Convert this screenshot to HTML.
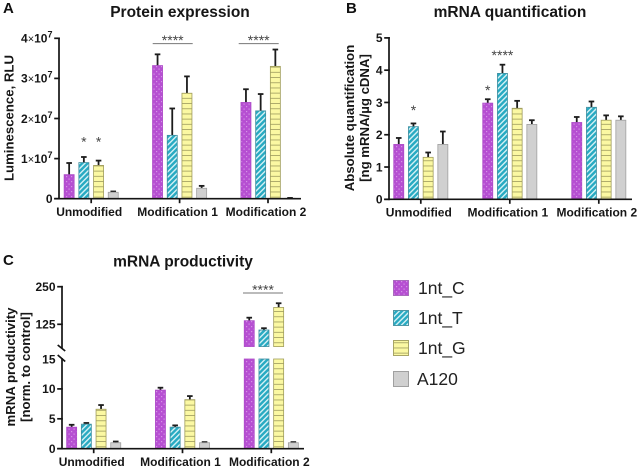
<!DOCTYPE html>
<html>
<head>
<meta charset="utf-8">
<style>
html,body{margin:0;padding:0;background:#fff;}
svg{display:block;font-family:"Liberation Sans",sans-serif;}
.ttl{font-size:15.5px;font-weight:bold;text-anchor:middle;fill:#161616;}
.ylab{font-size:13.2px;font-weight:bold;text-anchor:middle;fill:#161616;}
.tick{font-size:12px;font-weight:bold;text-anchor:end;fill:#161616;}
.cat{font-size:12px;font-weight:bold;text-anchor:middle;fill:#161616;}
.letter{font-size:15px;font-weight:bold;fill:#111;}
.leg{font-size:17.5px;fill:#222;}
.sig{font-size:14px;text-anchor:middle;fill:#444;}
</style>
</head>
<body>
<svg id="fig" width="640" height="469" viewBox="0 0 640 469" xmlns="http://www.w3.org/2000/svg">
<defs>
<pattern id="p-c" patternUnits="userSpaceOnUse" width="5" height="5">
<rect width="5" height="5" fill="#b64fd2"/><rect x="1" y="1" width="1.2" height="1.2" fill="#d596e6"/><rect x="3.5" y="3.5" width="1.2" height="1.2" fill="#d596e6"/>
</pattern>
<pattern id="p-t" patternUnits="userSpaceOnUse" width="3.8" height="4" patternTransform="rotate(45)">
<rect width="3.8" height="4" fill="#28aac2"/><rect width="1.4" height="4" fill="#d5f1f5"/>
</pattern>
<pattern id="p-g" patternUnits="userSpaceOnUse" width="4" height="5.2">
<rect width="4" height="5.2" fill="#fbf8a2"/><rect y="4.3" width="4" height="0.9" fill="#a8a566"/>
</pattern>
<pattern id="p-a" patternUnits="userSpaceOnUse" width="4" height="4">
<rect width="4" height="4" fill="#d0d0d0"/>
</pattern>
</defs>

<text class="letter" x="3" y="13">A</text>
<text class="letter" x="346" y="13">B</text>
<text class="letter" x="3" y="265">C</text>

<text class="ttl" x="180" y="17">Protein expression</text>
<text class="ttl" x="510" y="17">mRNA quantification</text>
<text class="ttl" x="183" y="266.5">mRNA productivity</text>

<text class="ylab" transform="translate(13.5,118) rotate(-90)">Luminescence, RLU</text>
<text class="ylab" transform="translate(354,118) rotate(-90)">Absolute quantification</text>
<text class="ylab" transform="translate(369,118) rotate(-90)">[ng mRNA/µg cDNA]</text>
<text class="ylab" transform="translate(15,367) rotate(-90)">mRNA productivity</text>
<text class="ylab" transform="translate(30,367) rotate(-90)">[norm. to control]</text>

<g>
<g>
<rect x="393.5" y="280.5" width="15" height="15" fill="url(#p-c)" stroke="#a86cbc" stroke-width="1"/>
<text class="leg" x="418" y="294">1nt_C</text>
</g>
<g>
<rect x="393.5" y="310.5" width="15" height="15" fill="url(#p-t)" stroke="#4f96a4" stroke-width="1"/>
<text class="leg" x="418" y="324">1nt_T</text>
</g>
<g>
<rect x="393.5" y="340.5" width="15" height="15" fill="url(#p-g)" stroke="#a8a566" stroke-width="1"/>
<text class="leg" x="418" y="354">1nt_G</text>
</g>
<g>
<rect x="393.5" y="371.5" width="15" height="15" fill="url(#p-a)" stroke="#a0a0a0" stroke-width="1"/>
<text class="leg" x="417" y="385">A120</text>
</g>
</g>

<g id="panel-a"></g>
<g id="panel-b"></g>
<g id="panel-c"></g>
</svg>

<script>
// Shared categories and series
const categories = ["Unmodified", "Modification 1", "Modification 2"];
const seriesNames = ["1nt_C", "1nt_T", "1nt_G", "A120"];

// Panel A: protein expression (RLU, in units of 1e7)
const proteinC = [0.60, 3.32, 2.40];
const proteinT = [0.90, 1.58, 2.19];
const proteinG = [0.83, 2.63, 3.30];
const proteinA = [0.16, 0.26, 0.01];
const proteinCErr = [0.29, 0.28, 0.33];
const proteinTErr = [0.14, 0.67, 0.42];
const proteinGErr = [0.12, 0.42, 0.42];
const proteinAErr = [0.02, 0.06, 0.01];
const proteinTicks = [0, 1, 2, 3, 4];

// Panel B: mRNA quantification
const quantC = [1.70, 2.98, 2.38];
const quantT = [2.25, 3.90, 2.85];
const quantG = [1.30, 2.82, 2.45];
const quantA = [1.70, 2.32, 2.45];
const quantCErr = [0.20, 0.12, 0.17];
const quantTErr = [0.10, 0.27, 0.18];
const quantGErr = [0.15, 0.23, 0.15];
const quantAErr = [0.40, 0.13, 0.12];
const quantTicks = [0, 1, 2, 3, 4, 5];

// Panel C: mRNA productivity
const prodC = [3.6, 9.8, 137];
const prodT = [4.1, 3.6, 106];
const prodG = [6.6, 8.2, 181];
const prodA = [1.0, 1.0, 1.0];
const prodCErr = [0.4, 0.4, 10];
const prodTErr = [0.2, 0.3, 6];
const prodGErr = [0.7, 0.6, 14];
const prodAErr = [0.2, 0.1, 0.1];
const prodLowerTicks = [0, 5, 10, 15];
const prodUpperTicks = [125, 250];

// Significance annotations: group, series position, value at which the label sits, label
const proteinSigGroups = [0, 0];
const proteinSigSeats = [1, 2];
const proteinSigValues = [1.48, 1.48];
const proteinSigLabels = ["*", "*"];
const proteinBracketValues = [3.866, 3.866];
const quantSigGroups = [0, 1, 1];
const quantSigSeats = [1, 0, 1];
const quantSigValues = [2.835, 3.456, 4.54];
const quantSigLabels = ["*", "*", "****"];

const NS = "http://www.w3.org/2000/svg";
const INK = "#141414";
const fills = ["url(#p-c)", "url(#p-t)", "url(#p-g)", "url(#p-a)"];
const edges = ["#ad4cc8", "#3f8d9e", "#a09d5c", "#a0a0a0"];
const BAR_W = 10;
const PITCH = 14.7;

function mk(parent, tag, props, txt) {
  const el = document.createElementNS(NS, tag);
  for (const k in props) el.setAttribute(k, props[k]);
  if (txt !== undefined) el.textContent = txt;
  parent.appendChild(el);
  return el;
}
function line(parent, x1, y1, x2, y2, w, color) {
  return mk(parent, "line", {x1: x1, y1: y1, x2: x2, y2: y2, stroke: color || INK, "stroke-width": w || 1.7});
}

// Axis functions
function yA(v) { return 198.7 - v / 4 * 160.4; }
function yB(v) { return 199.3 - v / 5 * 161.4; }
function yCLow(v) { return 448.7 - v / 15 * 89.7; }
function yCHigh(v) { return 324.3 - (v - 125) / 125 * 37.6; }
function yC(v) { return v <= 15 ? yCLow(v) : yCHigh(v); }
function xA(g) { return 91.2 + g * 88.4; }
function xB(g) { return 420.8 + g * 89; }
function xC(g) { return 93.7 + g * 88.8; }
function seat(s) { return (s - 1.5) * PITCH; }

function drawBarRect(g, x, yTop, yBottom, s) {
  return mk(g, "rect", {x: x - BAR_W / 2, y: yTop, width: BAR_W, height: Math.max(0.5, yBottom - yTop),
    fill: fills[s], stroke: edges[s], "stroke-width": 0.8});
}
function drawErr(g, x, yBase, yTop) {
  const e = mk(g, "g", {});
  
  
  line(e, x, yBase, x, yTop, 1.8, "#1c1c1c");
  line(e, x - 2.8, yTop, x + 2.8, yTop, 1.8, "#1c1c1c");
}

function drawBars(root, xf, yf, values, errors) {
  values.forEach(function (vals, s) {
    vals.forEach(function (v, gi) {
      const x = xf(gi) + seat(s);
      const g = mk(root, "g", {});
      
      
      drawErr(g, x, yf(v), yf(v + errors[s][gi]));
      if (v > 15 && yf === yC) {
        drawBarRect(g, x, yCLow(15), yCLow(0), s);
        drawBarRect(g, x, yCHigh(v), yCHigh(51), s);
      } else {
        drawBarRect(g, x, yf(v), yf(0), s);
      }
    });
  });
}

function drawXAxis(root, xf, xStart, xEnd, y0, labelY) {
  const ax = mk(root, "g", {});
  
  
  line(ax, xStart, y0, xEnd, y0);
  categories.forEach(function (c, i) {
    line(ax, xf(i), y0, xf(i), y0 + 4.5);
    const t = mk(ax, "text", {"class": "cat", x: xf(i) - 2, y: labelY}, c);
    
    
  });
}

function drawYTick(ax, x0, y, labelText, power, noTick) {
  if (!noTick) line(ax, x0 - 4.8, y, x0 + 0.8, y);
  const t = mk(ax, "text", {"class": "tick", x: x0 - 6.5, y: y + 4.3});
  
  
  if (power && labelText !== 0) {
    mk(t, "tspan", {}, labelText);
    mk(t, "tspan", {"font-weight": "normal", "font-size": "11"}, "\u00d7");
    mk(t, "tspan", {}, "10");
    mk(t, "tspan", {"font-size": "9", dy: "-5"}, power);
  } else {
    t.textContent = labelText;
  }
}

function drawSig(root, xf, yf, groups, seats, vals, labels) {
  labels.forEach(function (lab, i) {
    const x = xf(groups[i]) + seat(seats[i]);
    const t = mk(root, "text", {"class": "sig", x: x, y: yf(vals[i]) + 7.3}, lab);
    
    
  });
}

function sigBracket(root, xf, yf, group, value, label, shift) {
  const cx = xf(group) + shift;
  const y = yf(value);
  const g = mk(root, "g", {});
  
  
  line(g, cx - 20, y, cx + 20, y, 1, "#777");
  const t = mk(g, "text", {"class": "sig", x: cx, y: y + 1.5}, label);
  
  
}

// Panel A
(function () {
  const root = document.getElementById("panel-a");
  drawBars(root, xA, yA, [proteinC, proteinT, proteinG, proteinA],
    [proteinCErr, proteinTErr, proteinGErr, proteinAErr]);
  const ay = mk(root, "g", {});
  
  
  line(ay, 59, yA(0) + 0.8, 59, yA(4) - 0.8);
  proteinTicks.forEach(function (v) { drawYTick(ay, 59, yA(v), v, "7"); });
  drawXAxis(root, xA, 54.2, 301, yA(0), 216);
  drawSig(root, xA, yA, proteinSigGroups, proteinSigSeats, proteinSigValues, proteinSigLabels);
  sigBracket(root, xA, yA, 1, proteinBracketValues[0], "****", -6.9);
  sigBracket(root, xA, yA, 2, proteinBracketValues[1], "****", -9.3);
})();

// Panel B
(function () {
  const root = document.getElementById("panel-b");
  drawBars(root, xB, yB, [quantC, quantT, quantG, quantA],
    [quantCErr, quantTErr, quantGErr, quantAErr]);
  const ay = mk(root, "g", {});
  
  
  line(ay, 389, yB(0) + 0.8, 389, yB(5) - 0.8);
  quantTicks.forEach(function (v) { drawYTick(ay, 389, yB(v), v); });
  drawXAxis(root, xB, 384.2, 632, yB(0), 216.7);
  drawSig(root, xB, yB, quantSigGroups, quantSigSeats, quantSigValues, quantSigLabels);
})();

// Panel C
(function () {
  const root = document.getElementById("panel-c");
  drawBars(root, xC, yC, [prodC, prodT, prodG, prodA],
    [prodCErr, prodTErr, prodGErr, prodAErr]);
  const ay = mk(root, "g", {});
  
  
  line(ay, 62, yCLow(0) + 0.8, 62, 358);
  line(ay, 62, yCHigh(250) - 0.8, 62, 348);
  line(ay, 57.7, 345, 65.2, 351);
  line(ay, 57.7, 355, 65.2, 361.5);
  prodLowerTicks.forEach(function (v) { drawYTick(ay, 62, yCLow(v), v, undefined, v === 15); });
  prodUpperTicks.forEach(function (v) { drawYTick(ay, 62, yCHigh(v), v); });
  drawXAxis(root, xC, 57.2, 304, yCLow(0), 466);
  sigBracket(root, xC, yCHigh, 2, 229, "****", -8.3);
})();
</script>
</body>
</html>
